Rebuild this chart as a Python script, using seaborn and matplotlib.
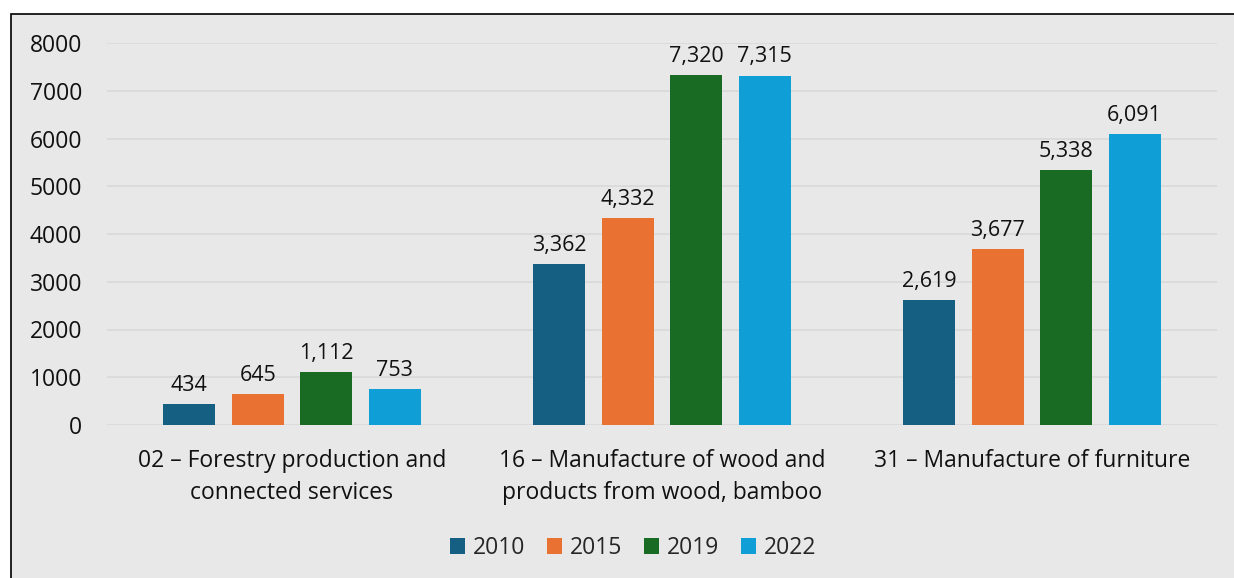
import pandas as pd
import seaborn as sns
import matplotlib.pyplot as plt
from matplotlib.patches import Rectangle

# Data
categories = ['02 – Forestry production and\nconnected services',
              '16 – Manufacture of wood and\nproducts from wood, bamboo',
              '31 – Manufacture of furniture']
years = ['2010', '2015', '2019', '2022']
values_2010 = [434, 3362, 2619]
values_2015 = [645, 4332, 3677]
values_2019 = [1112, 7320, 5338]
values_2022 = [753, 7315, 6091]
colors = ['#156082', '#E97132', '#196B24', '#0F9ED5']

rows = []
for year, vals in zip(years, [values_2010, values_2015, values_2019, values_2022]):
    for cat, v in zip(categories, vals):
        rows.append([cat, year, v])
data_df = pd.DataFrame(rows, columns=['Category', 'Year', 'Value'])

sns.set_style('white')
plt.rcParams['font.family'] = ['Open Sans', 'DejaVu Sans']
bg = '#e8e8e8'

fig = plt.figure(figsize=(12.34, 5.78), dpi=100, facecolor='white')
# grey panel with a thin border, like the exported chart frame
fig.patches.append(Rectangle((11 / 1234, -0.01), 1.0, 1 - 14 / 578 + 0.01,
                             transform=fig.transFigure, facecolor=bg,
                             edgecolor='black', linewidth=1.2, zorder=-1))
ax = fig.add_axes([107 / 1234, 1 - 425 / 578, 1110 / 1234, 382 / 578])
ax.set_facecolor(bg)

sns.barplot(data=data_df, x='Category', y='Value', hue='Year',
            palette=colors, width=0.74, gap=0.24, saturation=1,
            linewidth=0, ax=ax, zorder=3)

for c in ax.containers:
    ax.bar_label(c, fmt='{:,.0f}', padding=6, fontsize=15.5, color='#111111')

ax.set_ylim(0, 8000)
ax.set_yticks(range(0, 8001, 1000))
ax.yaxis.grid(True, color='#d9d9d9', linewidth=1.2, zorder=0)
ax.set_axisbelow(True)
ax.tick_params(axis='both', length=0, colors='#111111')
ax.tick_params(axis='y', pad=18, labelsize=16.5)
ax.tick_params(axis='x', pad=17, labelsize=16.5)
for lbl in ax.get_xticklabels():
    lbl.set_linespacing(1.45)
for s in ax.spines.values():
    s.set_visible(False)
ax.set_xlabel('')
ax.set_ylabel('')

handles, labels = ax.get_legend_handles_labels()
ax.legend(handles, labels, loc='center', bbox_to_anchor=(633 / 1234, 1 - 548 / 578),
          bbox_transform=fig.transFigure, ncol=4, frameon=False, fontsize=16.5,
          handlelength=0.65, handleheight=0.65, handletextpad=0.35,
          columnspacing=0.95)

plt.savefig('out.png', dpi=100, facecolor=fig.get_facecolor())
plt.close()
